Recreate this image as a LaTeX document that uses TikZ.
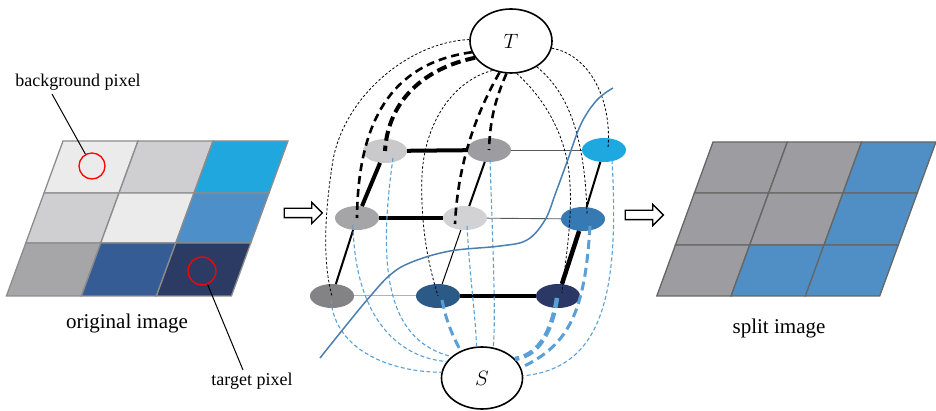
\documentclass[tikz,border=0pt]{standalone}
\usepackage{fontspec}
\setmainfont{Liberation Serif}
\usetikzlibrary{shapes.geometric,shapes.arrows}
\definecolor{cA}{HTML}{C9C9CB}
\definecolor{cB}{HTML}{9D9DA1}
\definecolor{cC}{HTML}{1EA8E0}
\definecolor{cD}{HTML}{A5A5A7}
\definecolor{cE}{HTML}{D2D2D4}
\definecolor{cF}{HTML}{3679B3}
\definecolor{cG}{HTML}{838386}
\definecolor{cH}{HTML}{2C5A86}
\definecolor{cI}{HTML}{2B3865}
\definecolor{dashblue}{HTML}{5A9FD6}
\definecolor{cutblue}{HTML}{4A7FB0}
\definecolor{lgA}{HTML}{EBEBEB}
\definecolor{lgB}{HTML}{CFCFD1}
\definecolor{lgC}{HTML}{1FA7DE}
\definecolor{lgD}{HTML}{4D8FC8}
\definecolor{lgE}{HTML}{A6A6A8}
\definecolor{lgF}{HTML}{365C96}
\definecolor{lgG}{HTML}{2C3B63}
\definecolor{rgGrey}{HTML}{9D9DA1}
\definecolor{rgBlue}{HTML}{4F8FC6}
\newcommand\gcell[7]{%
  \path[fill=#6,cellline] ({#1-0.365*(#3-#2)+#7*#5},#3) -- ({#1-0.365*(#3-#2)+#7*(#5+1)},#3)
    -- ({#1-0.365*(#4-#2)+#7*(#5+1)},#4) -- ({#1-0.365*(#4-#2)+#7*#5},#4) -- cycle;}
\begin{document}
\begin{tikzpicture}[x=1pt,y=-1pt,
  pix/.style={ellipse, minimum width=44pt, minimum height=24pt, inner sep=0pt},
  term/.style={ellipse, draw, line width=1.6pt, fill=white, minimum width=82pt, minimum height=64pt, inner sep=0pt, font=\fontsize{21}{25}\selectfont},
  thickedge/.style={line width=4pt},
  midedge/.style={line width=2pt},
  thinedge/.style={line width=0.9pt, draw=black!65},
  blackthin/.style={dash pattern=on 2.5pt off 2pt, line width=0.8pt},
  blackthick/.style={dash pattern=on 8pt off 5pt, line width=2.6pt},
  blackvthick/.style={dash pattern=on 10pt off 5pt, line width=4pt},
  bluethin/.style={draw=dashblue, dash pattern=on 4pt off 2.5pt, line width=1.1pt},
  bluethick/.style={draw=dashblue, dash pattern=on 9pt off 5pt, line width=3pt},
  bluevthick/.style={draw=dashblue, dash pattern=on 10pt off 5pt, line width=4.5pt},
  hollowarrow/.style={single arrow, draw, line width=1.3pt, fill=white, minimum height=38pt, inner xsep=0pt, inner ysep=4pt, single arrow head extend=6pt, single arrow head indent=0pt},
  caption/.style={font=\fontsize{21}{25}\selectfont},
  label/.style={font=\fontsize{18}{22}\selectfont},
  cellline/.style={draw=gray, line width=1.3pt}
]
\useasboundingbox (0,0) rectangle (936,411);

% ---------- left grid ----------
\begin{scope}[cellline/.style={draw=black!45, line width=1.3pt}]
\gcell{63}{141}{141}{193}{0}{lgA}{75}
\gcell{63}{141}{141}{193}{1}{lgB}{75}
\gcell{63}{141}{141}{193}{2}{lgC}{75}
\gcell{63}{141}{193}{243}{0}{lgB}{75}
\gcell{63}{141}{193}{243}{1}{lgA}{75}
\gcell{63}{141}{193}{243}{2}{lgD}{75}
\gcell{63}{141}{243}{296}{0}{lgE}{75}
\gcell{63}{141}{243}{296}{1}{lgF}{75}
\gcell{63}{141}{243}{296}{2}{lgG}{75}
\end{scope}
\node[circle, draw=red, line width=1.3pt, minimum size=26pt, inner sep=0pt] (bgc) at (92,166) {};
\node[circle, draw=red, line width=1.3pt, minimum size=28pt, inner sep=0pt] (tgc) at (202,271) {};
\node[label] (bg) at (78,82) {background pixel};
\node[label] (tg) at (252,381) {target pixel};
\node[caption] (orig) at (127,323) {original image};
\coordinate (bgp) at (52,94);
\coordinate (tgp) at (243,370);
\draw[line width=1pt] (bgp) -- (bgc);
\draw[line width=1pt] (tgp) -- (tgc);

% ---------- right grid ----------
\begin{scope}[cellline/.style={draw=black!60, line width=1.3pt}]
\gcell{713}{142}{142}{193}{0}{rgGrey}{74.3}
\gcell{713}{142}{142}{193}{1}{rgGrey}{74.3}
\gcell{713}{142}{142}{193}{2}{rgBlue}{74.3}
\gcell{713}{142}{193}{245}{0}{rgGrey}{74.3}
\gcell{713}{142}{193}{245}{1}{rgGrey}{74.3}
\gcell{713}{142}{193}{245}{2}{rgBlue}{74.3}
\gcell{713}{142}{245}{296}{0}{rgGrey}{74.3}
\gcell{713}{142}{245}{296}{1}{rgBlue}{74.3}
\gcell{713}{142}{245}{296}{2}{rgBlue}{74.3}
\end{scope}
\node[caption] (split) at (779,328) {split image};

% ---------- arrows ----------
\node[hollowarrow] (arr1) at (301,213) {};
\node[hollowarrow] (arr2) at (642,215) {};

% ---------- graph nodes ----------
\node[pix, fill=cA] (n1) at (385,151) {};
\node[pix, fill=cB] (n2) at (489,150) {};
\node[pix, fill=cC] (n3) at (604,150) {};
\node[pix, fill=cD] (n4) at (357,218) {};
\node[pix, fill=cE] (n5) at (465,218) {};
\node[pix, fill=cF] (n6) at (583,219) {};
\node[pix, fill=cG] (n7) at (332,296) {};
\node[pix, fill=cH] (n8) at (438,296) {};
\node[pix, fill=cI] (n9) at (558,296) {};

\node[term] (T) at (511,41) {$T$};
\node[term, minimum width=81pt, minimum height=62pt] (S) at (482,378) {$S$};

% grid edges
\draw[thickedge] (n1) -- (n2);
\draw[thinedge] (n2) -- (n3);
\draw[thickedge] (n4) -- (n5);
\draw[thinedge] (n5) -- (n6);
\draw[line width=1pt, draw=black!30] (n7) -- (n8);
\draw[thickedge] (n8) -- (n9);
\draw[thickedge] (n4) -- (n1);
\draw[midedge] (n7) -- (n4);
\draw[midedge] (n5) -- (n2);
\draw[line width=1pt] (n8) -- (n5);
\draw[midedge] (n6) -- (n3);
\draw[line width=4.5pt] (n9) -- (n6);

% T dashed curves
\draw[blackthin] (T.178) .. controls (410,42) and (345,95) .. (333,160) .. controls (325,210) and (322,260) .. (n7.center);
\draw[blackthick] (T.196) .. controls (400,62) and (358,110) .. (n4.center);
\draw[blackvthick] (T.205) .. controls (425,68) and (388,100) .. (n1.center);
\draw[blackthin] (T.238) .. controls (455,80) and (425,120) .. (422,175) .. controls (420,230) and (430,270) .. (n8.center);
\draw[blackthick] (T.250) .. controls (478,110) and (458,160) .. (455,224);
\draw[blackthick] (T.262) .. controls (495,100) and (490,120) .. (n2.center);
\draw[blackthin] (T.280) .. controls (535,90) and (560,120) .. (568,165) .. controls (575,210) and (565,260) .. (562,293);
\draw[blackthin] (T.315) .. controls (565,90) and (585,130) .. (587,215);
\draw[blackthin] (T.350) .. controls (590,55) and (612,100) .. (608,148);

% S dashed curves
\draw[bluethin] (331,300) .. controls (335,350) and (390,372) .. (S.172);
\draw[bluethin] (353,225) .. controls (355,320) and (400,358) .. (S.155);
\draw[bluethin] (393,158) .. controls (378,265) and (385,340) .. (S.145);
\draw[bluethick] (442,300) .. controls (446,320) and (452,335) .. (S.128);
\draw[bluethin] (467,226) .. controls (470,280) and (476,320) .. (S.100);
\draw[bluethin] (490,160) .. controls (493,250) and (496,320) .. (S.70);
\draw[bluevthick] (557,298) .. controls (552,330) and (540,355) .. (S.30);
\draw[bluethick] (590,226) .. controls (585,310) and (570,345) .. (S.15);
\draw[bluethin] (612,160) .. controls (620,300) and (600,368) .. (S.3);

% cut curve
\draw[cutblue, line width=1.5pt] plot[smooth, tension=0.6] coordinates {(320,358) (340,333) (367,300) (390,275) (412,262) (450,251) (500,246) (527,240) (545,220) (556,192) (567,162) (581,124) (597,100) (613,88)};
\end{tikzpicture}
\end{document}
